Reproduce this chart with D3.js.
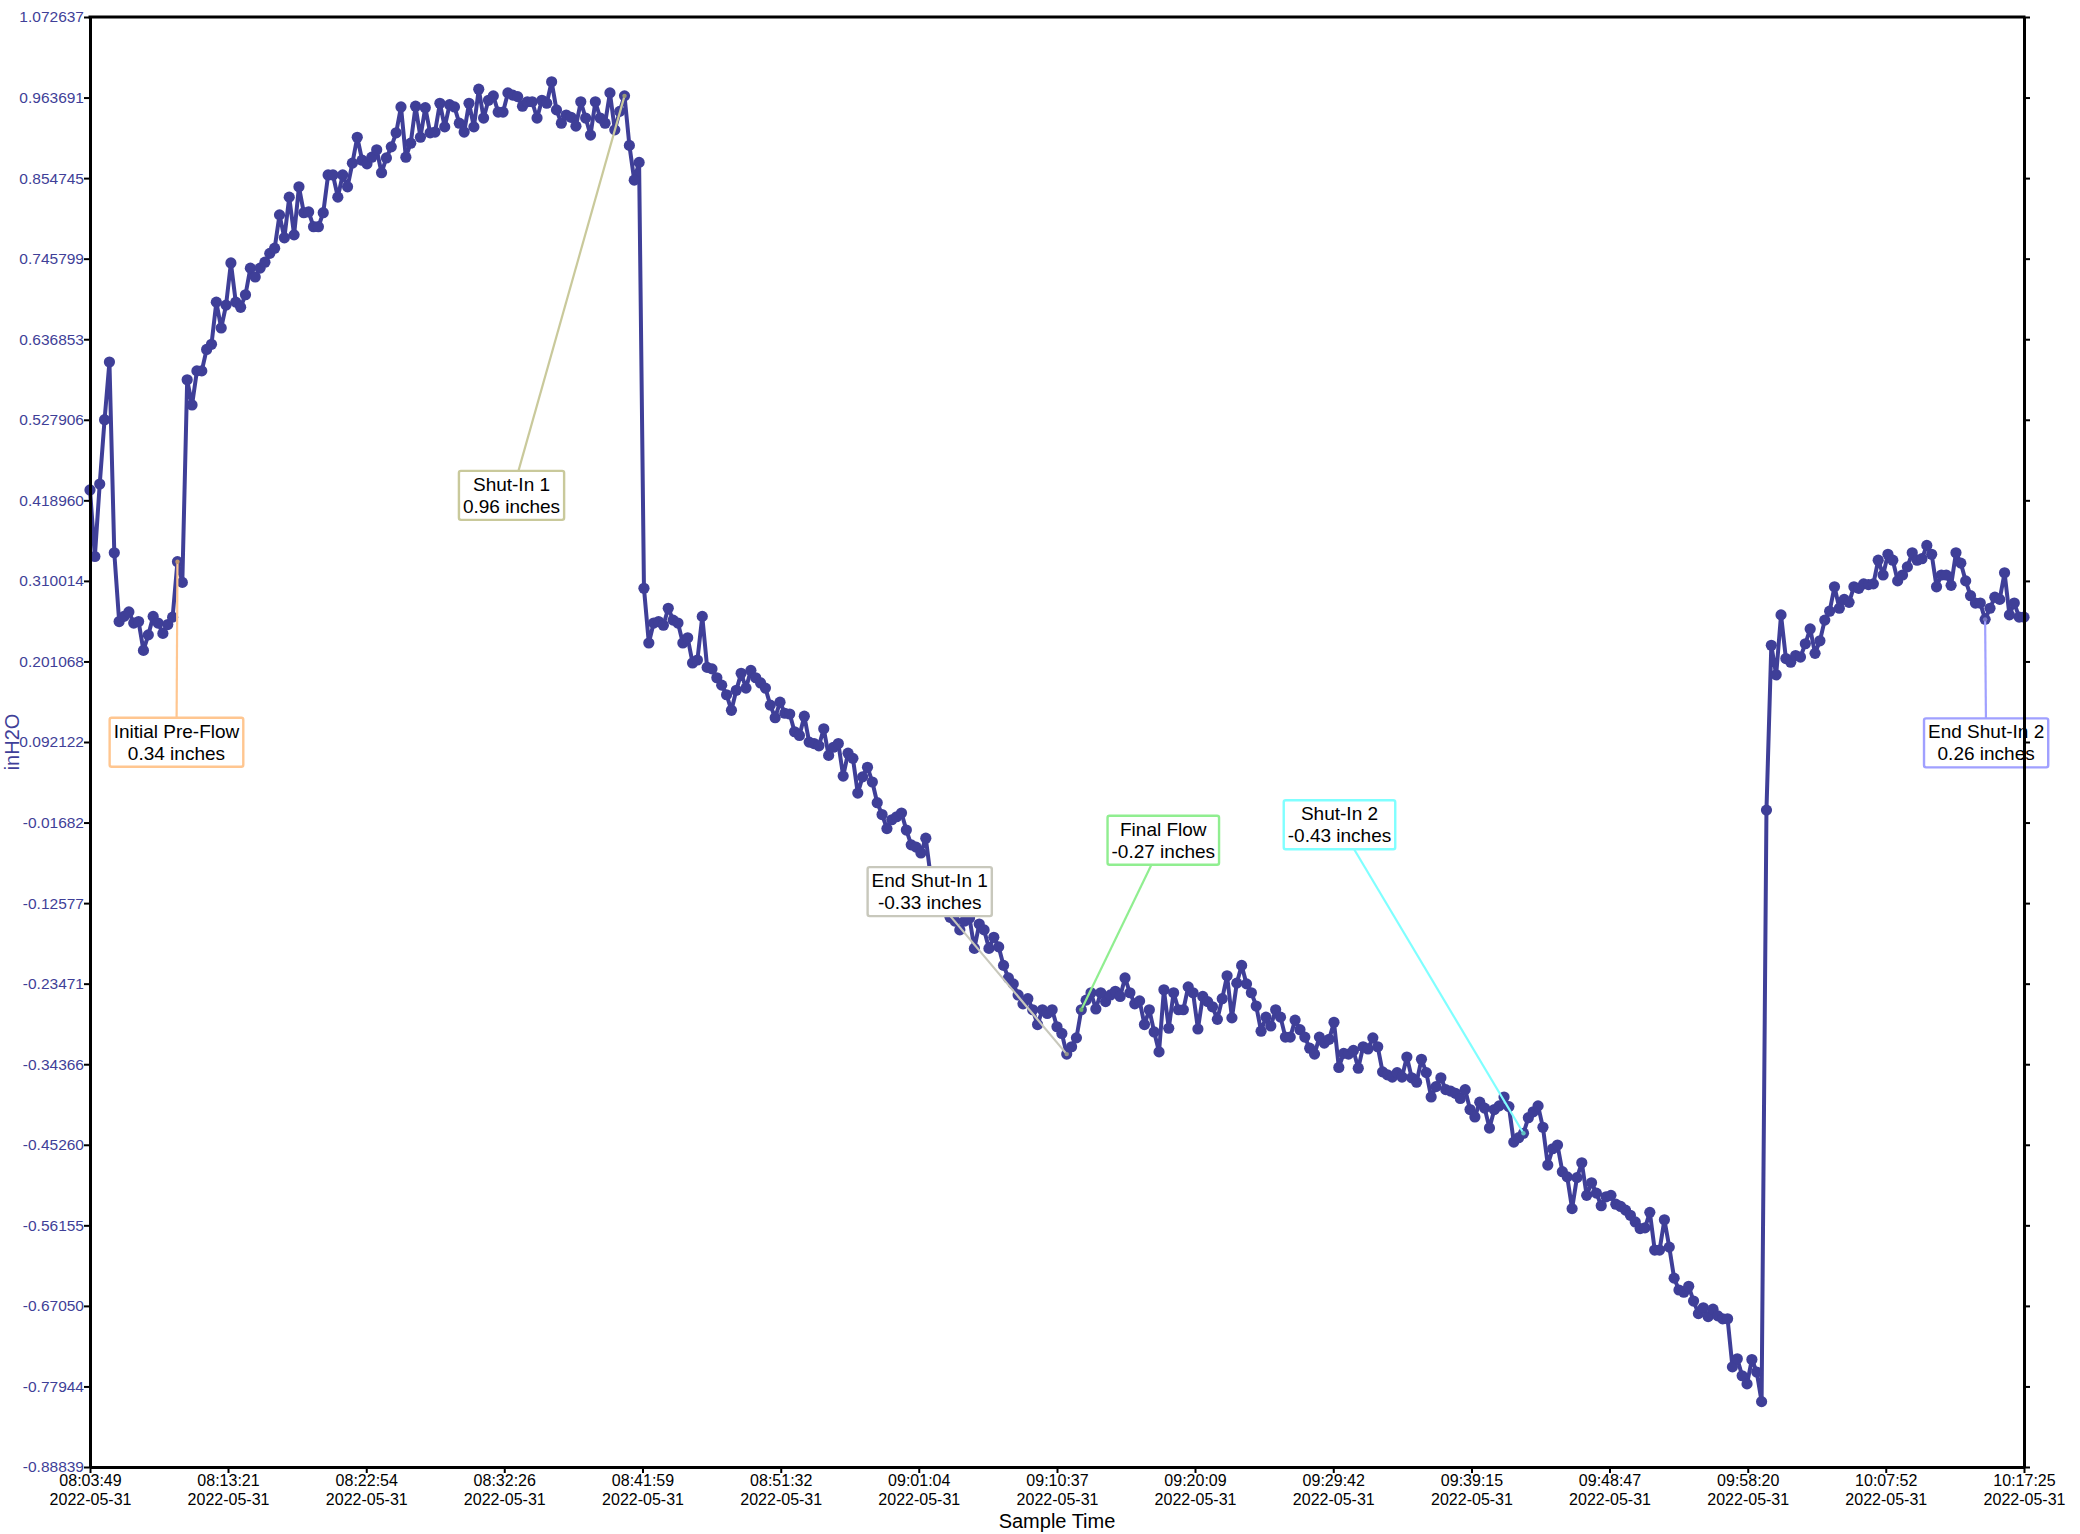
<!DOCTYPE html>
<html>
<head>
<meta charset="utf-8">
<script src="https://cdn.jsdelivr.net/npm/d3@7"></script>
<style>
  body { margin: 0; background: #ffffff; }
  text { font-family: "Liberation Sans", Arial, Helvetica, sans-serif; }
</style>
</head>
<body>
<svg id="chart" width="2080" height="1534"></svg>
<script>
// ---------------- DATA ----------------
const yAxisTitle = "inH2O";
const xAxisTitle = "Sample Time";
const sampleDate = "2022-05-31";
const startTime = "08:03:49";
const endTime = "10:17:25";

const xTickLabels = ["08:03:49","08:13:21","08:22:54","08:32:26","08:41:59","08:51:32","09:01:04",
  "09:10:37","09:20:09","09:29:42","09:39:15","09:48:47","09:58:20","10:07:52","10:17:25"];

const yTickLabels = ["1.072637","0.963691","0.854745","0.745799","0.636853","0.527906","0.418960",
  "0.310014","0.201068","0.092122","-0.01682","-0.12577","-0.23471","-0.34366","-0.45260",
  "-0.56155","-0.67050","-0.77944","-0.88839"];

const yMin = -0.888391, yMax = 1.072637;

// pre-flow and first shut-in build-up (inH2O)
const valuesPart1 = [
  0.433, 0.343, 0.441, 0.528, 0.606, 0.348, 0.255, 0.262, 0.268, 0.253,
  0.255, 0.216, 0.237, 0.262, 0.253, 0.239, 0.251, 0.261, 0.336, 0.308,
  0.582, 0.548, 0.594, 0.594, 0.623, 0.630,
  0.687, 0.652, 0.683, 0.740, 0.687, 0.680, 0.697, 0.733, 0.721, 0.733,
  0.741, 0.753, 0.760, 0.805, 0.774, 0.829, 0.778, 0.843, 0.808, 0.809,
  0.789, 0.789, 0.808, 0.859, 0.859, 0.829, 0.859, 0.843, 0.875, 0.910,
  0.879, 0.874, 0.883, 0.893, 0.862, 0.882, 0.897, 0.916, 0.951, 0.883,
  0.902, 0.952, 0.910, 0.950, 0.916, 0.917, 0.956, 0.924, 0.954, 0.951,
  0.929, 0.917, 0.956, 0.924, 0.975, 0.936, 0.960, 0.966, 0.944, 0.944,
  0.970, 0.967, 0.965, 0.952, 0.958, 0.958, 0.936, 0.960, 0.956, 0.985,
  0.947, 0.929, 0.940, 0.937, 0.925, 0.958, 0.936, 0.913, 0.958, 0.936,
  0.929, 0.970, 0.920, 0.945, 0.966, 0.899, 0.852, 0.876
];

// flow / decline period (inH2O)
const valuesPart2 = [
  0.300, 0.226, 0.253, 0.255, 0.250, 0.273, 0.257, 0.253, 0.226, 0.233,
  0.199, 0.203, 0.262, 0.193, 0.191, 0.179, 0.169, 0.156, 0.135, 0.162,
  0.185, 0.165, 0.189, 0.179, 0.172, 0.165, 0.142, 0.125, 0.146, 0.131,
  0.130, 0.106, 0.101, 0.127, 0.092, 0.090, 0.087, 0.110, 0.074, 0.085,
  0.090,
  0.046, 0.077, 0.070, 0.023, 0.045, 0.058, 0.038, 0.010, -0.006, -0.025,
  -0.013, -0.009, -0.004, -0.027, -0.047, -0.050, -0.058, -0.038, -0.090, -0.115,
  -0.130, -0.125, -0.145, -0.150, -0.162, -0.150, -0.146, -0.187, -0.154, -0.162,
  -0.187, -0.172, -0.185, -0.210, -0.227, -0.235, -0.250, -0.262, -0.255, -0.270,
  -0.290, -0.270, -0.275, -0.270, -0.293, -0.302, -0.330,
  -0.320, -0.308, -0.270, -0.257, -0.247, -0.269, -0.247, -0.259, -0.250, -0.245,
  -0.252, -0.227, -0.247, -0.262, -0.258, -0.290, -0.270, -0.300, -0.327, -0.243,
  -0.295, -0.247, -0.270, -0.270, -0.239, -0.247, -0.296, -0.252, -0.259, -0.266,
  -0.283, -0.255, -0.224, -0.281, -0.234, -0.210, -0.235, -0.247, -0.265, -0.299,
  -0.280, -0.292, -0.270, -0.280, -0.307, -0.307, -0.284, -0.297, -0.307, -0.322,
  -0.330, -0.307, -0.315, -0.310, -0.287, -0.348, -0.329, -0.330, -0.325, -0.349,
  -0.320, -0.323, -0.308, -0.320, -0.354, -0.358, -0.361, -0.355, -0.361, -0.334,
  -0.362, -0.368, -0.337, -0.355, -0.388, -0.374, -0.362, -0.378, -0.380, -0.383,
  -0.390, -0.378, -0.405, -0.415, -0.395,
  -0.403, -0.430, -0.405, -0.400, -0.388, -0.401, -0.449, -0.443, -0.437, -0.416,
  -0.408, -0.400, -0.429, -0.480, -0.458, -0.453, -0.489, -0.496, -0.539, -0.497,
  -0.477, -0.521, -0.504, -0.518, -0.535, -0.523, -0.521, -0.533, -0.536, -0.541,
  -0.548, -0.557, -0.566, -0.565, -0.544, -0.595, -0.595, -0.554, -0.591, -0.633,
  -0.649, -0.652, -0.644, -0.664, -0.681, -0.673, -0.685, -0.675, -0.684, -0.688,
  -0.688, -0.753, -0.742, -0.765, -0.776, -0.743, -0.760, -0.800
];

// second shut-in build-up (inH2O)
const valuesPart3 = [
  0.000, 0.223, 0.183, 0.264, 0.205, 0.200, 0.209, 0.207, 0.225, 0.245,
  0.212, 0.229, 0.257, 0.269, 0.302, 0.273, 0.285, 0.281, 0.302, 0.300,
  0.306, 0.305, 0.306, 0.338, 0.318, 0.346, 0.338, 0.310, 0.318, 0.329,
  0.348, 0.338, 0.340, 0.358, 0.346, 0.302, 0.318, 0.318, 0.304, 0.348,
  0.334, 0.310, 0.290, 0.280, 0.280, 0.258, 0.273, 0.288, 0.285, 0.321,
  0.264, 0.280, 0.261, 0.261
];

// annotations: title, value text, sample index they point at
const annotationTitles = ["Initial Pre-Flow","Shut-In 1","End Shut-In 1","Final Flow","Shut-In 2","End Shut-In 2"];
const annotationValues = ["0.34 inches","0.96 inches","-0.33 inches","-0.27 inches","-0.43 inches","0.26 inches"];
const annotationIndex = [18, 110, 201, 204, 295, 390];

// ---------------- LAYOUT / STYLE ----------------
const W = 2080, H = 1534;
const M = { l: 90, r: 56, t: 17, b: 67 };
const seriesColor = "#3f3f98";
const annoColors = ["#ffc690", "#c9c99b", "#c8c8bc", "#90ee90", "#80ffff", "#a0a0ff"];
// box centre offset (dx) and box top offset (dy) relative to the target point
const annoOffsets = [
  { dx: -1, dy: 156 }, { dx: -113, dy: 375 }, { dx: -137, dy: -187 },
  { dx: 82, dy: -194 }, { dx: -184, dy: -333 }, { dx: 1, dy: 99 }
];

const svg = d3.select("#chart");
const parse = d3.timeParse("%Y-%m-%d %H:%M:%S");
const t0 = parse(`${sampleDate} ${startTime}`);
const t1 = parse(`${sampleDate} ${endTime}`);

const values = [...valuesPart1, ...valuesPart2, ...valuesPart3];
const step = (t1 - t0) / (values.length - 1);
const data = values.map((v, i) => ({ t: new Date(+t0 + i * step), v }));

const x = d3.scaleTime().domain([t0, t1]).range([M.l, W - M.r]);
const y = d3.scaleLinear().domain([yMin, yMax]).range([H - M.b, M.t]);

// ---------------- SERIES ----------------
const line = d3.line().x(d => x(d.t)).y(d => y(d.v));
svg.append("path").datum(data)
  .attr("d", line).attr("fill", "none")
  .attr("stroke", seriesColor).attr("stroke-width", 4)
  .attr("stroke-linejoin", "round");

svg.append("g").selectAll("circle").data(data).join("circle")
  .attr("cx", d => x(d.t)).attr("cy", d => y(d.v)).attr("r", 5.6)
  .attr("fill", seriesColor);

// ---------------- ANNOTATIONS ----------------
const annoG = svg.append("g");
annotationTitles.forEach((title, k) => {
  const d = data[annotationIndex[k]];
  const px = x(d.t), py = y(d.v);
  const cx = px + annoOffsets[k].dx, top = py + annoOffsets[k].dy;
  const g = annoG.append("g");
  const lineEl = g.append("line");
  const rect = g.append("rect");
  const t1el = g.append("text").attr("x", cx).attr("y", top + 20).attr("text-anchor", "middle")
    .attr("font-size", 19).attr("fill", "#000").text(title);
  const t2el = g.append("text").attr("x", cx).attr("y", top + 42).attr("text-anchor", "middle")
    .attr("font-size", 19).attr("fill", "#000").text(annotationValues[k]);
  const w = Math.max(t1el.node().getComputedTextLength(), t2el.node().getComputedTextLength()) + 8;
  const h = 49;
  lineEl.attr("x1", px).attr("y1", py).attr("x2", cx).attr("y2", top + h / 2)
    .attr("stroke", annoColors[k]).attr("stroke-width", 2.2);
  rect.attr("x", cx - w / 2).attr("y", top).attr("width", w).attr("height", h)
    .attr("rx", 2).attr("fill", "#fff").attr("stroke", annoColors[k]).attr("stroke-width", 2.4);
  g.append("circle").attr("cx", px).attr("cy", py).attr("r", 2.2)
    .attr("fill", d3.color(annoColors[k]).darker(0.8));
});

// ---------------- AXES ----------------
const xTickDates = xTickLabels.map(s => parse(`${sampleDate} ${s}`));
const yTickVals = yTickLabels.map(Number);

const gx = svg.append("g").attr("transform", `translate(0,${H - M.b})`)
  .call(d3.axisBottom(x).tickValues(xTickDates).tickSize(6).tickSizeOuter(0).tickFormat(() => ""));
gx.selectAll(".tick text").remove();
gx.selectAll(".tick").each(function (d, i) {
  const t = d3.select(this).append("text").attr("fill", "#000").attr("font-size", 16)
    .attr("text-anchor", "middle");
  t.append("tspan").attr("x", 0).attr("y", 19).text(xTickLabels[i]);
  t.append("tspan").attr("x", 0).attr("y", 38).text(sampleDate);
});

const gy = svg.append("g").attr("transform", `translate(${M.l},0)`)
  .call(d3.axisLeft(y).tickValues(yTickVals).tickSize(6).tickSizeOuter(0)
    .tickFormat((d, i) => yTickLabels[i]));
gy.selectAll(".tick text").attr("fill", "#3f3f98").attr("font-size", 15.5).attr("x", -6);

const gr = svg.append("g").attr("transform", `translate(${W - M.r},0)`)
  .call(d3.axisRight(y).tickValues(yTickVals).tickSize(6).tickSizeOuter(0).tickFormat(() => ""));

[gx, gy, gr].forEach(g => {
  g.select(".domain").attr("stroke", "#000").attr("stroke-width", 3);
  g.selectAll(".tick line").attr("stroke", "#000").attr("stroke-width", 2);
  g.attr("font-family", null);
});

svg.append("line").attr("x1", M.l - 1.5).attr("x2", W - M.r + 1.5)
  .attr("y1", M.t).attr("y2", M.t).attr("stroke", "#000").attr("stroke-width", 3);

// titles
svg.append("text").attr("transform", `translate(19,${(M.t + H - M.b) / 2}) rotate(-90)`)
  .attr("text-anchor", "middle").attr("font-size", 20).attr("fill", "#3f3f98").text(yAxisTitle);
svg.append("text").attr("x", (M.l + W - M.r) / 2).attr("y", 1528)
  .attr("text-anchor", "middle").attr("font-size", 20).attr("fill", "#000").text(xAxisTitle);
</script>
</body>
</html>
